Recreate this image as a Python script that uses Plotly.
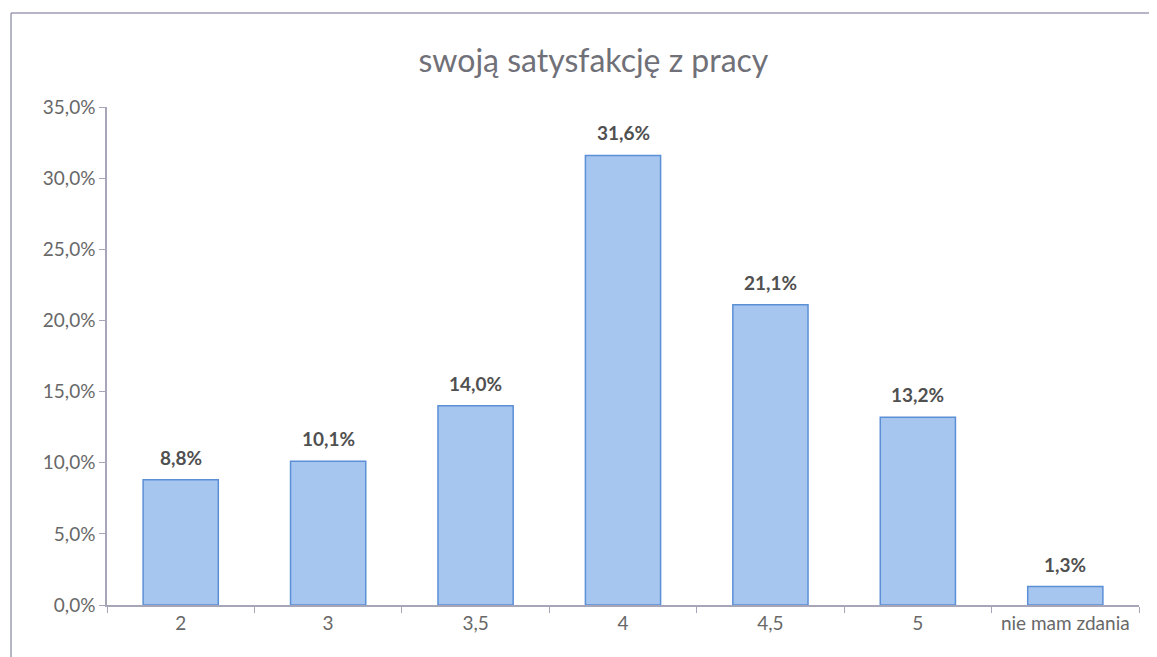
import plotly.graph_objects as go

# ── Data ─────────────────────────────────────────────
categories = ['2', '3', '3,5', '4', '4,5', '5', 'nie mam zdania']
shares = [0.088, 0.101, 0.140, 0.316, 0.211, 0.132, 0.013]
y_ticks = [0, 0.05, 0.10, 0.15, 0.20, 0.25, 0.30, 0.35]

TEXT = '#686868'
LABEL = '#505050'
AXIS = '#a6a6b8'
FRAME = '#9c9cb4'
FILL = '#a6c6ef'
EDGE = '#5b8fd6'
FONT = 'Lato, sans-serif'

fig = go.Figure()
fig.add_trace(go.Bar(
    x=categories, y=shares,
    marker=dict(color=FILL, line=dict(color=EDGE, width=1.5)),
    showlegend=False, hoverinfo='x+y',
))

# value labels above the bars (Polish decimal comma);
# category axes take annotation x as the category index
labels = [f"<b>{v * 100:.1f}%</b>".replace('.', ',') for v in shares]
annotations = [
    dict(x=i, y=v, text=t, showarrow=False, yanchor='bottom', yshift=9,
         font=dict(size=19, color=LABEL, family=FONT))
    for i, (v, t) in enumerate(zip(shares, labels))
]

fig.update_layout(
    width=1157, height=657,
    margin=dict(l=99, r=26, t=99, b=60),
    paper_bgcolor='white', plot_bgcolor='white',
    separators=', ',
    bargap=0.49,
    font=dict(family=FONT, color=TEXT),
    title=dict(
        text='swoją satysfakcję z pracy',
        font=dict(size=32, color='#707078', family=FONT),
        x=0.506, xanchor='center', y=0.92, yanchor='middle',
    ),
    annotations=annotations,
    # chart frame: only the top and left edges fall inside the picture
    shapes=[
        dict(type='line', xref='paper', yref='paper',
             x0=-0.093, x1=1.3, y0=1.189, y1=1.189,
             line=dict(color=FRAME, width=1.5), layer='below'),
        dict(type='line', xref='paper', yref='paper',
             x0=-0.093, x1=-0.093, y0=-0.3, y1=1.189,
             line=dict(color=FRAME, width=1.5), layer='below'),
    ],
)

fig.update_xaxes(
    type='category',
    showline=True, linecolor=AXIS, linewidth=1.5,
    ticks='outside', tickson='boundaries', ticklen=6, tickcolor=AXIS,
    tickfont=dict(size=19, color=TEXT), showgrid=False,
)
fig.update_yaxes(
    range=[0, 0.35], tickvals=y_ticks, tickformat='.1%',
    showline=True, linecolor=AXIS, linewidth=1.5,
    ticks='outside', ticklen=6, tickcolor=AXIS,
    tickfont=dict(size=19, color=TEXT), showgrid=False, zeroline=False,
)

fig.write_html('out.html')
